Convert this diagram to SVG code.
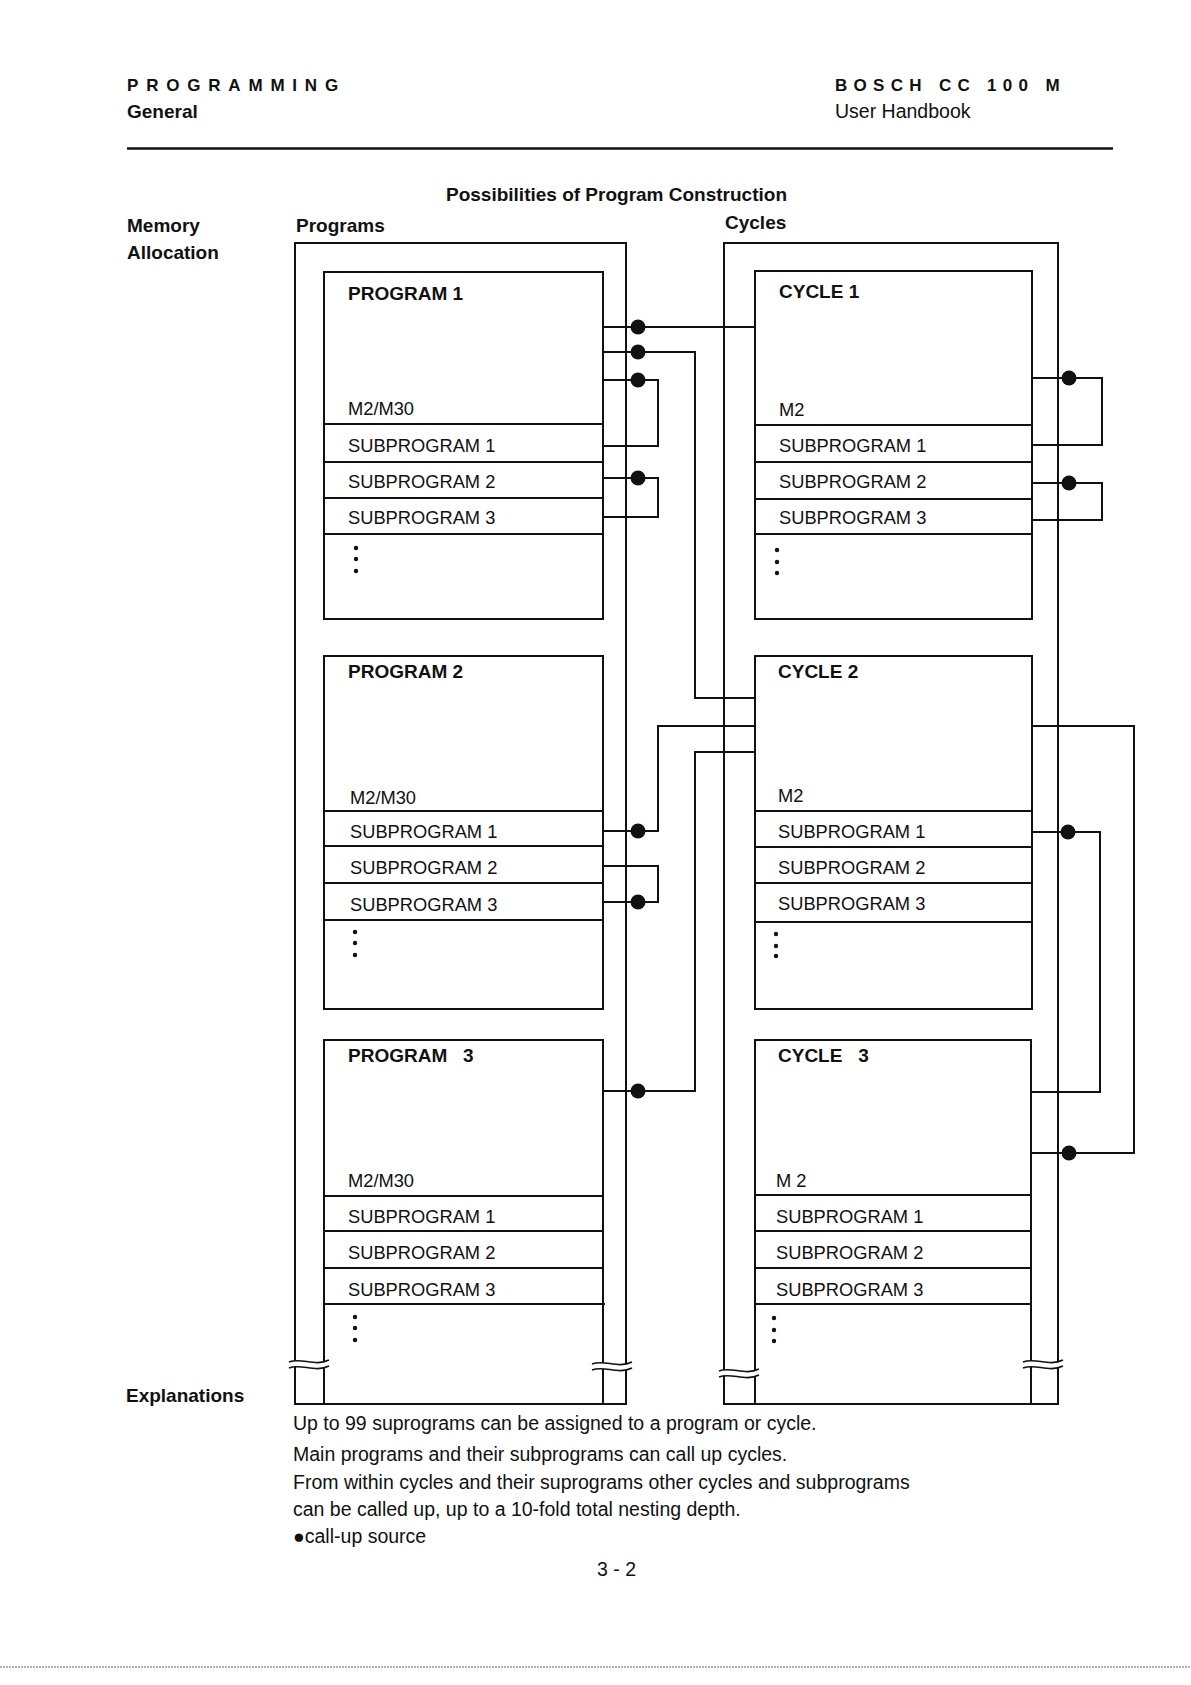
<svg xmlns="http://www.w3.org/2000/svg" xmlns:xlink="http://www.w3.org/1999/xlink" width="1191" height="1685" viewBox="0 0 1191 1685">
<style>
text{font-family:"Liberation Sans",Arial,Helvetica,sans-serif;fill:#111}
.hd{font-size:17px;font-weight:bold}
.lb{font-size:19px;font-weight:bold}
.rg{font-size:19.5px}
.bt{font-size:19px;font-weight:bold}
.st{font-size:18.3px}
.box{fill:none;stroke:#111;stroke-width:2}
.sep{stroke:#111;stroke-width:2}
.con{fill:none;stroke:#111;stroke-width:2}
.dot{fill:#111}
.dd{fill:#111}
</style>
<defs>
<g id="brk">
<path d="M0,2 C12,-3 26,7 40,0 L40,6 C26,13 12,3 0,8 Z" fill="#fff"/>
<path d="M0,2 C12,-3 26,7 40,0 M0,8 C12,3 26,13 40,6" fill="none" stroke="#111" stroke-width="1.6"/>
</g>
</defs>
<rect width="1191" height="1685" fill="#fff"/>

<g id="header">
<text class="hd" x="127" y="91" letter-spacing="7.8">PROGRAMMING</text>
<text class="lb" x="127" y="118">General</text>
<text class="hd" x="835" y="91" letter-spacing="6.3">BOSCH CC 100 M</text>
<text class="rg" x="835" y="118">User Handbook</text>
<line x1="127" y1="148.5" x2="1113" y2="148.5" stroke="#111" stroke-width="2.5"/>
<text class="lb" x="446" y="201">Possibilities of Program Construction</text>
<text class="lb" x="127" y="232">Memory</text>
<text class="lb" x="127" y="259">Allocation</text>
<text class="lb" x="296" y="232">Programs</text>
<text class="lb" x="725" y="229">Cycles</text>
</g>

<g id="programs-frame">
<rect class="box" x="295" y="243" width="331" height="1161"/>
</g>
<g id="cycles-frame">
<rect class="box" x="724" y="243" width="334" height="1161"/>
</g>

<g id="program1">
<rect class="box" x="324" y="272" width="279" height="347"/>
<line class="sep" x1="324" y1="424" x2="603" y2="424"/>
<line class="sep" x1="324" y1="462" x2="603" y2="462"/>
<line class="sep" x1="324" y1="498" x2="603" y2="498"/>
<line class="sep" x1="324" y1="534" x2="603" y2="534"/>
<text class="bt" x="348" y="300">PROGRAM 1</text>
<text class="st" x="348" y="415">M2/M30</text>
<text class="st" x="348" y="452">SUBPROGRAM 1</text>
<text class="st" x="348" y="488">SUBPROGRAM 2</text>
<text class="st" x="348" y="524">SUBPROGRAM 3</text>
<circle class="dd" cx="356" cy="548" r="2.2"/><circle class="dd" cx="356" cy="559" r="2.2"/><circle class="dd" cx="356" cy="571" r="2.2"/>
</g>

<g id="program2">
<rect class="box" x="324" y="656" width="279" height="353"/>
<line class="sep" x1="324" y1="811" x2="603" y2="811"/>
<line class="sep" x1="324" y1="846" x2="603" y2="846"/>
<line class="sep" x1="324" y1="883" x2="603" y2="883"/>
<line class="sep" x1="324" y1="920" x2="603" y2="920"/>
<text class="bt" x="348" y="678">PROGRAM 2</text>
<text class="st" x="350" y="804">M2/M30</text>
<text class="st" x="350" y="838">SUBPROGRAM 1</text>
<text class="st" x="350" y="874">SUBPROGRAM 2</text>
<text class="st" x="350" y="911">SUBPROGRAM 3</text>
<circle class="dd" cx="355" cy="932" r="2.2"/><circle class="dd" cx="355" cy="943" r="2.2"/><circle class="dd" cx="355" cy="955" r="2.2"/>
</g>

<g id="program3">
<rect class="box" x="324" y="1040" width="279" height="364"/>
<line class="sep" x1="324" y1="1196" x2="603" y2="1196"/>
<line class="sep" x1="324" y1="1231" x2="603" y2="1231"/>
<line class="sep" x1="324" y1="1268" x2="603" y2="1268"/>
<line class="sep" x1="324" y1="1304" x2="605" y2="1304"/>
<text class="bt" x="348" y="1062" xml:space="preserve">PROGRAM   3</text>
<text class="st" x="348" y="1187">M2/M30</text>
<text class="st" x="348" y="1223">SUBPROGRAM 1</text>
<text class="st" x="348" y="1259">SUBPROGRAM 2</text>
<text class="st" x="348" y="1296">SUBPROGRAM 3</text>
<circle class="dd" cx="355" cy="1317" r="2.2"/><circle class="dd" cx="355" cy="1328" r="2.2"/><circle class="dd" cx="355" cy="1340" r="2.2"/>
</g>

<g id="cycle1">
<rect class="box" x="755" y="271" width="277" height="348"/>
<line class="sep" x1="755" y1="425" x2="1032" y2="425"/>
<line class="sep" x1="755" y1="462" x2="1032" y2="462"/>
<line class="sep" x1="755" y1="499" x2="1032" y2="499"/>
<line class="sep" x1="755" y1="534" x2="1032" y2="534"/>
<text class="bt" x="779" y="298">CYCLE 1</text>
<text class="st" x="779" y="416">M2</text>
<text class="st" x="779" y="452">SUBPROGRAM 1</text>
<text class="st" x="779" y="488">SUBPROGRAM 2</text>
<text class="st" x="779" y="524">SUBPROGRAM 3</text>
<circle class="dd" cx="777" cy="550" r="2.2"/><circle class="dd" cx="777" cy="562" r="2.2"/><circle class="dd" cx="777" cy="573" r="2.2"/>
</g>

<g id="cycle2">
<rect class="box" x="755" y="656" width="277" height="353"/>
<line class="sep" x1="755" y1="811" x2="1032" y2="811"/>
<line class="sep" x1="755" y1="847" x2="1032" y2="847"/>
<line class="sep" x1="755" y1="883" x2="1032" y2="883"/>
<line class="sep" x1="755" y1="922" x2="1032" y2="922"/>
<text class="bt" x="778" y="678">CYCLE 2</text>
<text class="st" x="778" y="802">M2</text>
<text class="st" x="778" y="838">SUBPROGRAM 1</text>
<text class="st" x="778" y="874">SUBPROGRAM 2</text>
<text class="st" x="778" y="910">SUBPROGRAM 3</text>
<circle class="dd" cx="776" cy="934" r="2.2"/><circle class="dd" cx="776" cy="946" r="2.2"/><circle class="dd" cx="776" cy="956" r="2.2"/>
</g>

<g id="cycle3">
<rect class="box" x="755" y="1040" width="276" height="364"/>
<line class="sep" x1="755" y1="1195" x2="1031" y2="1195"/>
<line class="sep" x1="755" y1="1231" x2="1031" y2="1231"/>
<line class="sep" x1="755" y1="1268" x2="1031" y2="1268"/>
<line class="sep" x1="755" y1="1304" x2="1031" y2="1304"/>
<text class="bt" x="778" y="1062" xml:space="preserve">CYCLE   3</text>
<text class="st" x="776" y="1187">M 2</text>
<text class="st" x="776" y="1223">SUBPROGRAM 1</text>
<text class="st" x="776" y="1259">SUBPROGRAM 2</text>
<text class="st" x="776" y="1296">SUBPROGRAM 3</text>
<circle class="dd" cx="774" cy="1318" r="2.2"/><circle class="dd" cx="774" cy="1330" r="2.2"/><circle class="dd" cx="774" cy="1341" r="2.2"/>
</g>

<g id="breaks">
<use xlink:href="#brk" href="#brk" x="289" y="1360"/>
<use xlink:href="#brk" href="#brk" x="592" y="1362"/>
<use xlink:href="#brk" href="#brk" x="719" y="1369"/>
<use xlink:href="#brk" href="#brk" x="1023" y="1360"/>
</g>

<g id="connectors">
<path class="con" d="M603,327 H755"/>
<path class="con" d="M603,352 H695 V698 H755"/>
<path class="con" d="M603,380 H658 V446 H603"/>
<path class="con" d="M603,478 H658 V517 H603"/>
<path class="con" d="M603,831 H658 V726 H755"/>
<path class="con" d="M603,866 H658 V902 H603"/>
<path class="con" d="M603,1091 H695 V752 H755"/>
<path class="con" d="M1032,378 H1102 V445 H1032"/>
<path class="con" d="M1032,483 H1102 V520 H1032"/>
<path class="con" d="M1032,726 H1134 V1153 H1031"/>
<path class="con" d="M1032,832 H1100 V1092 H1031"/>
<circle class="dot" cx="638" cy="327" r="7.5"/>
<circle class="dot" cx="638" cy="352" r="7.5"/>
<circle class="dot" cx="638" cy="380" r="7.5"/>
<circle class="dot" cx="638" cy="478" r="7.5"/>
<circle class="dot" cx="638" cy="831" r="7.5"/>
<circle class="dot" cx="638" cy="902" r="7.5"/>
<circle class="dot" cx="638" cy="1091" r="7.5"/>
<circle class="dot" cx="1069" cy="378" r="7.5"/>
<circle class="dot" cx="1069" cy="483" r="7.5"/>
<circle class="dot" cx="1068" cy="832" r="7.5"/>
<circle class="dot" cx="1069" cy="1153" r="7.5"/>
</g>

<g id="explanations">
<text class="lb" x="126" y="1402">Explanations</text>
<text class="rg" x="293" y="1430">Up to 99 suprograms can be assigned to a program or cycle.</text>
<text class="rg" x="293" y="1461">Main programs and their subprograms can call up cycles.</text>
<text class="rg" x="293" y="1489">From within cycles and their suprograms other cycles and subprograms</text>
<text class="rg" x="293" y="1516">can be called up, up to a 10-fold total nesting depth.</text>
<text class="rg" x="293" y="1543">●call-up source</text>
<text class="rg" x="597" y="1576">3 - 2</text>
</g>
<line x1="0" y1="1667" x2="1191" y2="1667" stroke="#999" stroke-width="1.5" stroke-dasharray="2 1"/>
</svg>
